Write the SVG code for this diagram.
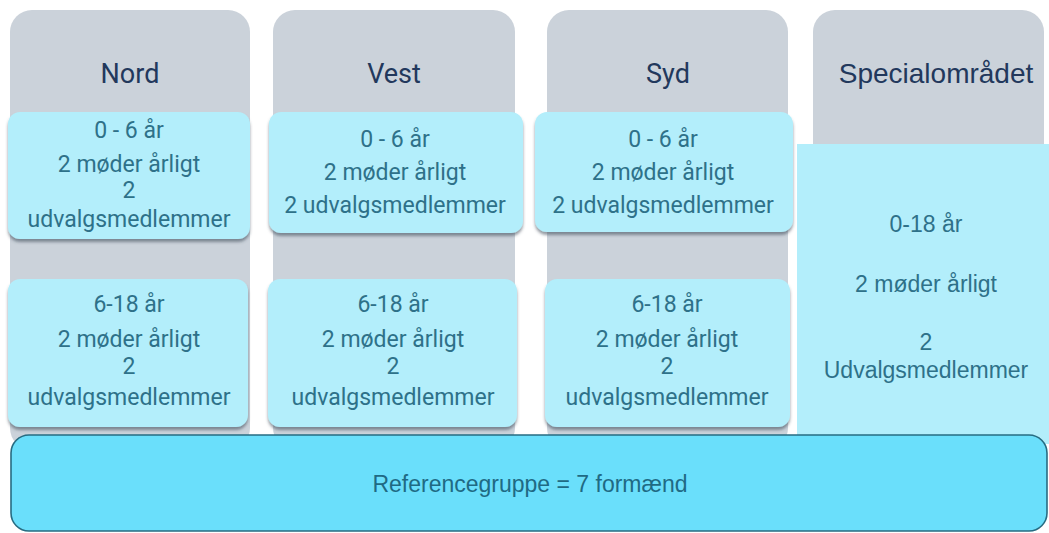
<svg xmlns="http://www.w3.org/2000/svg" width="1049" height="533" viewBox="0 0 1049 533">
<defs>
<filter id="sh" x="-5%" y="-5%" width="110%" height="115%">
<feDropShadow dx="0" dy="3" stdDeviation="1.6" flood-color="#3a4a55" flood-opacity="0.55"/>
</filter>
<style>
.col{fill:#CBD2DA}
.box{fill:#B3EEFB;filter:url(#sh)}
.hd{font-family:Roboto,"Liberation Sans",sans-serif;font-size:27px;fill:#22385C;text-anchor:middle}
.hd2{font-family:"Liberation Sans",Arial,sans-serif;font-size:28px;fill:#22385C;text-anchor:middle}
.t{font-family:Roboto,"Liberation Sans",sans-serif;font-size:23px;fill:#2E7189;text-anchor:middle}
.ta{font-family:"Liberation Sans",Arial,sans-serif;font-size:23px;fill:#2E7189;text-anchor:middle}
.ref{fill:#6ADFFB;stroke:#276C82;stroke-width:1.6}
</style>
</defs>
<rect width="1049" height="533" fill="#FFFFFF"/>
<g id="nord">
<rect class="col" x="10" y="10" width="240" height="440" rx="22"/>
<text class="hd" x="130" y="83">Nord</text>
<rect class="box" x="8" y="112" width="242" height="127" rx="12"/>
<text class="t" x="129" y="138">0 - 6 år</text>
<text class="t" x="129" y="172">2 møder årligt</text>
<text class="t" x="129" y="198">2</text>
<text class="t" x="129" y="227">udvalgsmedlemmer</text>
<rect class="box" x="8" y="279" width="240" height="148" rx="12"/>
<text class="t" x="129" y="312">6-18 år</text>
<text class="t" x="129" y="347">2 møder årligt</text>
<text class="t" x="129" y="374">2</text>
<text class="t" x="129" y="405">udvalgsmedlemmer</text>
</g>
<g id="vest">
<rect class="col" x="273" y="10" width="242" height="440" rx="22"/>
<text class="hd" x="394" y="83">Vest</text>
<rect class="box" x="269" y="112" width="254" height="121" rx="12"/>
<text class="t" x="395" y="147">0 - 6 år</text>
<text class="t" x="395" y="180">2 møder årligt</text>
<text class="t" x="395" y="213">2 udvalgsmedlemmer</text>
<rect class="box" x="268" y="279" width="249" height="148" rx="12"/>
<text class="t" x="393" y="312">6-18 år</text>
<text class="t" x="393" y="347">2 møder årligt</text>
<text class="t" x="393" y="374">2</text>
<text class="t" x="393" y="405">udvalgsmedlemmer</text>
</g>
<g id="syd">
<rect class="col" x="547" y="10" width="241" height="440" rx="22"/>
<text class="hd" x="668" y="83">Syd</text>
<rect class="box" x="535" y="112" width="258" height="120" rx="12"/>
<text class="t" x="663" y="147">0 - 6 år</text>
<text class="t" x="663" y="180">2 møder årligt</text>
<text class="t" x="663" y="213">2 udvalgsmedlemmer</text>
<rect class="box" x="545" y="279" width="245" height="148" rx="12"/>
<text class="t" x="667" y="312">6-18 år</text>
<text class="t" x="667" y="347">2 møder årligt</text>
<text class="t" x="667" y="374">2</text>
<text class="t" x="667" y="405">udvalgsmedlemmer</text>
</g>
<g id="special">
<rect class="col" x="813" y="10" width="231" height="440" rx="22"/>
<text class="hd2" x="936" y="83">Specialområdet</text>
<rect x="797" y="144" width="252" height="300" fill="#B3EEFB"/>
<text class="ta" x="926" y="232">0-18 år</text>
<text class="ta" x="926" y="292">2 møder årligt</text>
<text class="ta" x="926" y="350">2</text>
<text class="ta" x="926" y="378">Udvalgsmedlemmer</text>
</g>
<g id="referencegruppe">
<rect class="ref" x="11" y="435" width="1036" height="96" rx="18"/>
<text class="ta" x="530" y="492" fill="#1F6A84" style="fill:#1F6A84">Referencegruppe = 7 formænd</text>
</g>
<g id="connectors"></g>
</svg>
